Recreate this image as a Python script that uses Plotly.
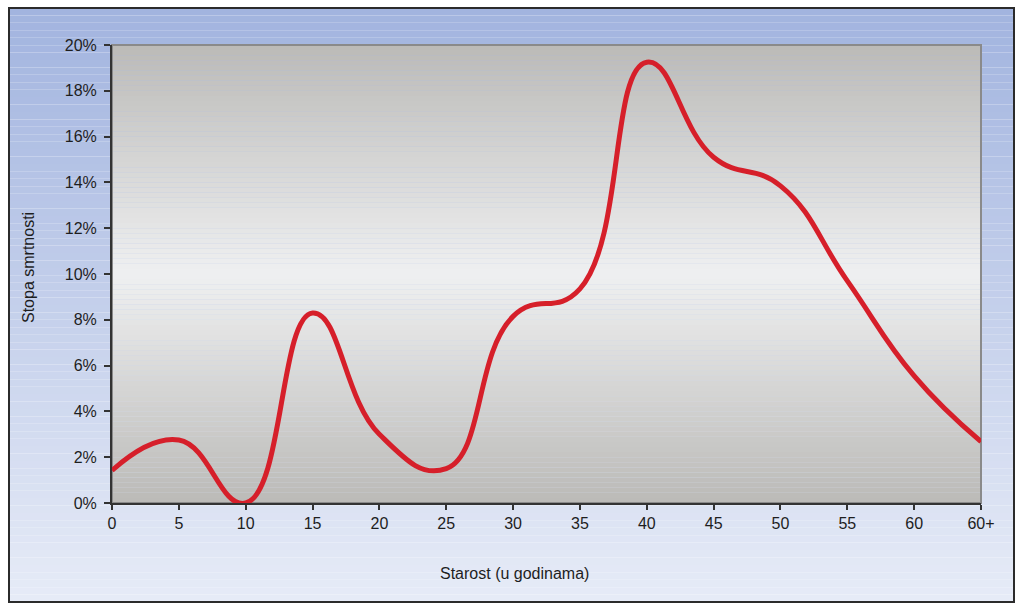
import plotly.graph_objects as go

# ---- data ----
age_labels = ["0", "5", "10", "15", "20", "25", "30", "35", "40", "45", "50", "55", "60", "60+"]
mortality = [0.0142, 0.0275, 0.0000, 0.0830, 0.0300, 0.0150, 0.0815, 0.0935, 0.1925, 0.1510, 0.1385, 0.0970, 0.0555, 0.0268]
y_ticks = [0, 0.02, 0.04, 0.06, 0.08, 0.10, 0.12, 0.14, 0.16, 0.18, 0.20]
x_title = "Starost (u godinama)"
y_title = "Stopa smrtnosti"

W, H = 1023, 611
L, R, T, B = 112, 42, 45, 108
pw, ph = W - L - R, H - T - B


def px2paper_x(px):
    return (px - L) / pw


def px2paper_y(py):
    return (H - B - py) / ph


def lerp(c1, c2, t):
    return "rgb(%d,%d,%d)" % tuple(round(a + (b - a) * t) for a, b in zip(c1, c2))


shapes = []
# outer frame gradient
fx0, fx1 = px2paper_x(9), px2paper_x(1014)
fy_top, fy_bot = px2paper_y(8), px2paper_y(602)
top_c, bot_c = (162, 180, 223), (230, 235, 247)
N = 80
for i in range(N):
    t = i / (N - 1)
    ya = fy_top + (fy_bot - fy_top) * i / N
    yb = fy_top + (fy_bot - fy_top) * (i + 1) / N
    shapes.append(dict(type="rect", xref="paper", yref="paper", x0=fx0, x1=fx1,
                       y0=ya, y1=yb, fillcolor=lerp(top_c, bot_c, t),
                       line=dict(width=0), layer="below"))
shapes.append(dict(type="rect", xref="paper", yref="paper", x0=fx0, x1=fx1,
                   y0=fy_bot, y1=fy_top, line=dict(color="#2b2b2b", width=2),
                   layer="below"))
# plot area gradient (dark - light - dark)
edge_c, mid_c = (187, 186, 183), (239, 240, 241)
N2 = 90
for i in range(N2):
    tc = (i + 0.5) / N2
    t = 1 - abs(tc - 0.5) * 2
    shapes.append(dict(type="rect", xref="paper", yref="paper", x0=0, x1=1,
                       y0=1 - i / N2, y1=1 - (i + 1) / N2,
                       fillcolor=lerp(edge_c, mid_c, t),
                       line=dict(width=0), layer="below"))
shapes.append(dict(type="rect", xref="paper", yref="paper", x0=0, x1=1, y0=0, y1=1,
                   line=dict(color="#8a8a8a", width=2), layer="below"))

fig = go.Figure()
fig.add_trace(go.Scatter(
    x=age_labels, y=mortality, mode="lines",
    line=dict(color="#d61f2a", width=5, shape="spline", smoothing=1.3),
    showlegend=False, hoverinfo="skip"))

font = dict(family="Liberation Sans, Arial, sans-serif", size=16, color="#1e1e1e")

fig.update_layout(
    width=W, height=H,
    margin=dict(l=L, r=R, t=T, b=B),
    paper_bgcolor="white",
    plot_bgcolor="rgba(0,0,0,0)",
    font=font,
    shapes=shapes,
    xaxis=dict(type="category", range=[0, len(age_labels) - 1],
               showgrid=False, zeroline=False, showline=True,
               linecolor="#333333", linewidth=2,
               ticks="outside", ticklen=5, tickcolor="#333333", tickwidth=1.5,
               tickfont=font),
    yaxis=dict(range=[0, 0.2], tickvals=y_ticks, tickformat=".0%",
               showgrid=False, zeroline=False, showline=True,
               linecolor="#333333", linewidth=2,
               ticks="outside", ticklen=6, tickcolor="#333333", tickwidth=1.5,
               ticklabelstandoff=4, tickfont=font),
    annotations=[
        dict(text=x_title, xref="paper", yref="paper",
             x=px2paper_x(514), y=px2paper_y(573), showarrow=False,
             xanchor="center", yanchor="middle", font=font),
        dict(text=y_title, xref="paper", yref="paper",
             x=px2paper_x(28), y=px2paper_y(268), showarrow=False,
             textangle=-90, xanchor="center", yanchor="middle", font=font),
    ],
)

fig.write_html("out.html")
